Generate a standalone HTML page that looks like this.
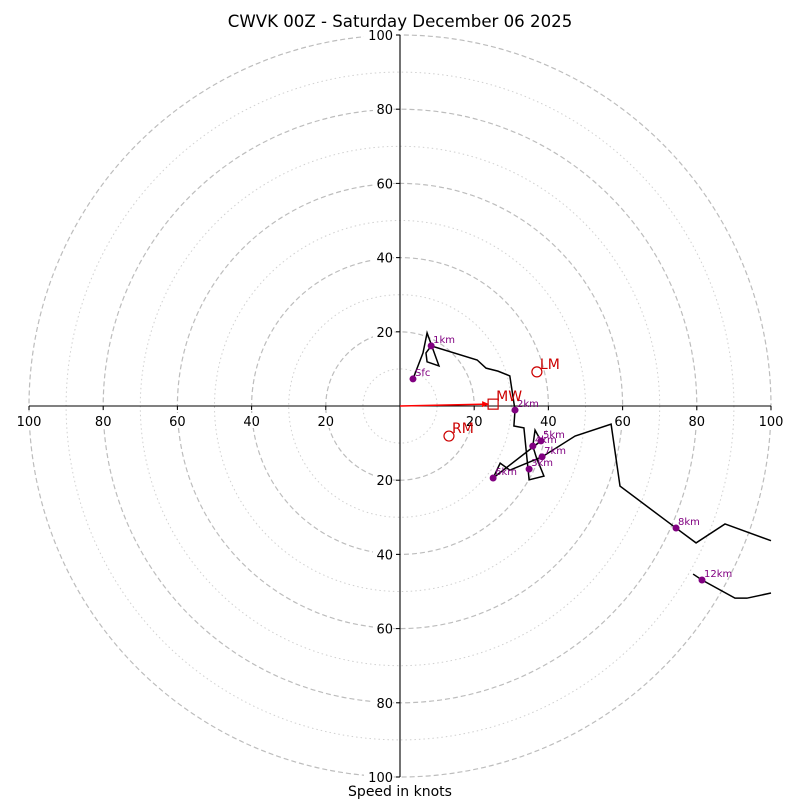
<!DOCTYPE html>
<html><head><meta charset="utf-8"><style>
body{margin:0;background:#fff}
svg text{font-family:"DejaVu Sans","Liberation Sans",sans-serif}
</style></head><body>
<svg id="hodo" width="800" height="800" viewBox="0 0 800 800" xmlns="http://www.w3.org/2000/svg">
<rect width="800" height="800" fill="#fff"/>
<text x="400" y="27" font-size="16.6" text-anchor="middle">CWVK 00Z - Saturday December 06 2025</text>
<text x="400" y="796" font-size="14" text-anchor="middle">Speed in knots</text>
<g id="rings"></g><g id="axes"></g><g id="series"></g><g id="marks"></g>
</svg>
<script>
const ringSpeeds=[10,20,30,40,50,60,70,80,90,100];
const tickLabels=[20,40,60,80,100];
const pathU=[3.5,6.2,7.3,10.5,7.3,7.0,8.4,20.8,23.2,26.4,29.6,31.0,30.7,33.4,34.8,38.8,36.7,35.8,36.4,38.0,25.1,27.0,29.6,38.3,47.2,56.9,59.3,74.4,79.8,87.6,100];
const pathV=[7.3,14.3,19.7,10.8,11.9,14.3,16.2,12.4,10.2,9.4,8.1,-1.1,-5.4,-5.9,-19.9,-18.9,-13.7,-10.8,-6.5,-9.4,-19.4,-15.4,-17.3,-13.7,-8.1,-4.9,-21.6,-32.9,-36.9,-31.8,-36.3];
const path2U=[79.0,81.4,90.3,93.5,100];
const path2V=[-45.3,-46.9,-51.8,-51.8,-50.4];
const hLabels=["Sfc","1km","2km","3km","4km","5km","6km","7km","8km","12km"];
const hU=[3.5,8.4,31.0,34.8,35.8,38.0,25.1,38.3,74.4,81.4];
const hV=[7.3,16.2,-1.1,-17.0,-10.8,-9.4,-19.4,-13.7,-32.9,-46.9];
const motionNames=["LM","MW","RM"];
const motionU=[36.9,25.1,13.2];
const motionV=[9.2,0.5,-8.1];
const CX=400,CY=406,S=3.71;
const px=u=>CX+u*S, py=v=>CY-v*S;
const NS="http://www.w3.org/2000/svg";
function mk(tag,parent,attrs){const e=document.createElementNS(NS,tag);for(const k in attrs)e.setAttribute(k,attrs[k]);document.getElementById(parent).appendChild(e);return e;}
ringSpeeds.forEach(s=>{const major=s%20===0;
 const c=mk('circle','rings',{cx:CX,cy:CY,r:s*S,fill:'none',stroke:major?'#bdbdbd':'#d0d0d0','stroke-width':major?1.2:1,'stroke-dasharray':major?'5,3':'1.5,3'});
 
 });
let l=mk('line','axes',{x1:px(-100),y1:CY,x2:px(100),y2:CY,stroke:'#000','stroke-width':1.1});


l=mk('line','axes',{x1:CX,y1:py(100),x2:CX,y2:py(-100),stroke:'#000','stroke-width':1.1});


tickLabels.forEach(t=>{[-1,1].forEach(sg=>{
 const x=px(sg*t);
 mk('line','axes',{x1:x,y1:CY,x2:x,y2:CY+4,stroke:'#000'});
 mk('rect','axes',{x:x-(t>=100?13:9),y:CY+7,width:t>=100?26:18,height:15,fill:'#fff'});
 let tx=mk('text','axes',{x:x,y:CY+20,'font-size':13,'text-anchor':'middle'});tx.textContent=t;
 
 
 const y=py(sg*t);
 mk('line','axes',{x1:CX-4,y1:y,x2:CX,y2:y,stroke:'#000'});
 mk('rect','axes',{x:CX-(t>=100?36:27),y:y-8,width:t>=100?29:20,height:15,fill:'#fff'});
 tx=mk('text','axes',{x:CX-7,y:y+5,'font-size':13,'text-anchor':'end'});tx.textContent=t;
 
 
});});
const pl=mk('polyline','series',{points:pathU.map((u,i)=>px(u)+','+py(pathV[i])).join(' '),fill:'none',stroke:'#000','stroke-width':1.5});


const pl2=mk('polyline','series',{points:path2U.map((u,i)=>px(u)+','+py(path2V[i])).join(' '),fill:'none',stroke:'#000','stroke-width':1.5});


hLabels.forEach((h,i)=>{const x=px(hU[i]),y=py(hV[i]);
 const d=mk('circle','marks',{cx:x,cy:y,r:3.5,fill:'#800080'});
 
 
 const t=mk('text','marks',{x:x+2,y:y-3,'font-size':10,fill:'#800080'});t.textContent=h;
 
 });
const ar=mk('line','marks',{x1:CX,y1:CY,x2:px(motionU[1])-6,y2:py(motionV[1]),stroke:'#f00','stroke-width':1.5});


const ah=mk('polygon','marks',{points:(px(motionU[1])-4)+','+py(motionV[1])+' '+(px(motionU[1])-11)+','+(py(motionV[1])-3)+' '+(px(motionU[1])-11)+','+(py(motionV[1])+3),fill:'#f00'});


motionNames.forEach((n,i)=>{const x=px(motionU[i]),y=py(motionV[i]);let m;
 if(n==='MW')m=mk('rect','marks',{x:x-5,y:y-5,width:10,height:10,fill:'none',stroke:'#c00','stroke-width':1.2});
 else m=mk('circle','marks',{cx:x,cy:y,r:5,fill:'none',stroke:'#c00','stroke-width':1.2});
 
 
 const t=mk('text','marks',{x:x+3,y:y-3,'font-size':14,fill:'#c00'});t.textContent=n;
 
 });
</script>
</body></html>
